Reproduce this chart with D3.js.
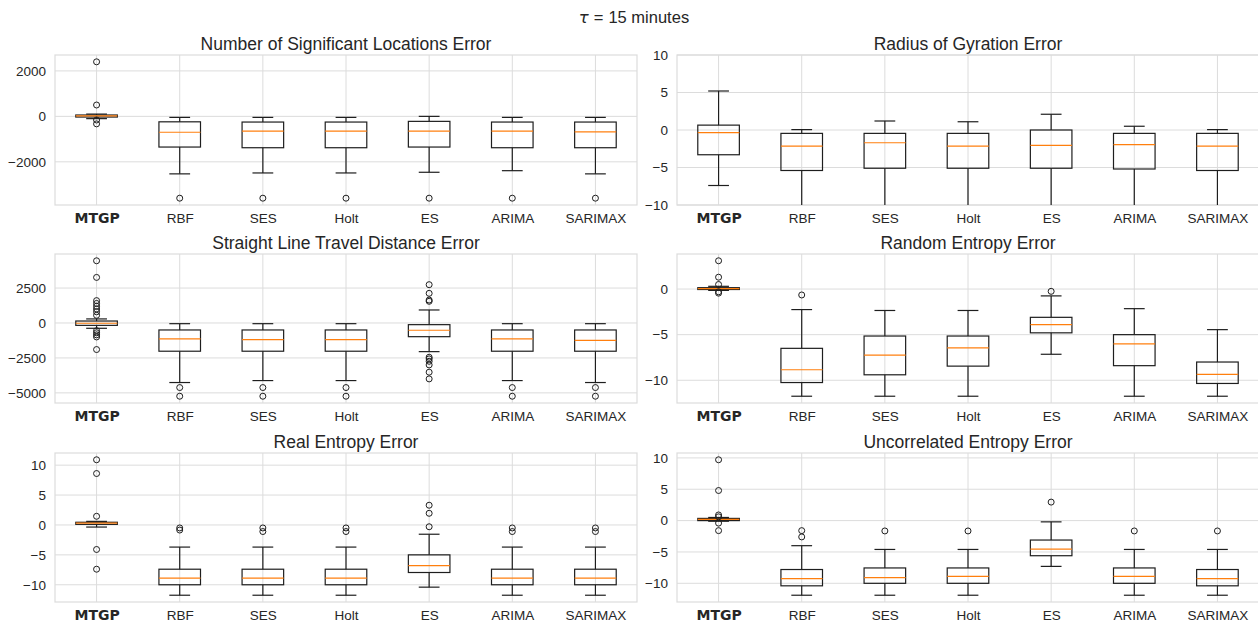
<!DOCTYPE html>
<html>
<head>
<meta charset="utf-8">
<script src="https://cdn.jsdelivr.net/npm/d3@7"></script>
<style>
  body { margin: 0; background: #fff; }
  svg { display: block; }
</style>
</head>
<body>
<svg id="chart" width="1258" height="626"></svg>
<script>
// Forecasting methods compared in every panel
const methods = ["MTGP", "RBF", "SES", "Holt", "ES", "ARIMA", "SARIMAX"];

// Number of Significant Locations Error
const locLo  = [-100, -2530, -2490, -2490, -2460, -2390, -2530];
const locQ1  = [-30, -1350, -1380, -1380, -1350, -1380, -1380];
const locMed = [20, -700, -650, -650, -650, -650, -680];
const locQ3  = [60, -240, -250, -250, -220, -250, -250];
const locHi  = [100, -45, -45, -45, 0, -45, -45];
const locOut = [[2400, 500, -160, -330], [-3600], [-3600], [-3600], [-3600], [-3600], [-3600]];
const locTicks = [-2000, 0, 2000];

// Radius of Gyration Error
const rogLo  = [-7.4, -11, -11, -11, -11, -11, -11];
const rogQ1  = [-3.3, -5.4, -5.1, -5.1, -5.1, -5.2, -5.4];
const rogMed = [-0.35, -2.15, -1.7, -2.15, -2.05, -1.95, -2.15];
const rogQ3  = [0.65, -0.45, -0.45, -0.45, 0.0, -0.45, -0.45];
const rogHi  = [5.2, 0.05, 1.2, 1.1, 2.1, 0.5, 0.05];
const rogOut = [[], [], [], [], [], [], []];
const rogTicks = [-10, -5, 0, 5, 10];
const rogRange = [-10, 10];

// Straight Line Travel Distance Error
const sltLo  = [-380, -4260, -4120, -4120, -2050, -4120, -4260];
const sltQ1  = [-170, -2020, -2020, -2020, -980, -2020, -2020];
const sltMed = [-20, -1140, -1190, -1190, -520, -1140, -1240];
const sltQ3  = [140, -500, -500, -500, -120, -500, -500];
const sltHi  = [290, -50, -50, -50, 930, -50, -50];
const sltOut = [
  [4450, 3260, 1600, 1400, 1200, 1000, 800, 550, -550, -700, -850, -1000, -1900],
  [-4620, -5240], [-4620, -5240], [-4620, -5240],
  [2740, 2120, 1640, 1550, -2450, -2570, -2740, -3000, -3520, -4000],
  [-4620, -5240], [-4620, -5240]
];
const sltTicks = [-5000, -2500, 0, 2500];

// Random Entropy Error
const rndLo  = [-0.15, -11.75, -11.75, -11.75, -7.15, -11.75, -11.75];
const rndQ1  = [-0.05, -10.25, -9.4, -8.45, -4.8, -8.4, -10.35];
const rndMed = [0.05, -8.85, -7.25, -6.45, -3.9, -6.0, -9.35];
const rndQ3  = [0.15, -6.5, -5.15, -5.15, -3.1, -5.0, -8.0];
const rndHi  = [0.3, -2.25, -2.35, -2.35, -0.75, -2.15, -4.45];
const rndOut = [[3.1, 1.3, 0.5, -0.3, -0.45], [-0.65], [], [], [-0.25], [], []];
const rndTicks = [-10, -5, 0];

// Real Entropy Error
const realLo  = [-0.35, -11.75, -11.75, -11.75, -10.4, -11.75, -11.75];
const realQ1  = [0.1, -10.0, -10.0, -10.0, -7.95, -10.0, -10.0];
const realMed = [0.3, -8.9, -8.9, -8.9, -6.8, -8.9, -8.9];
const realQ3  = [0.45, -7.4, -7.4, -7.4, -5.0, -7.4, -7.4];
const realHi  = [0.6, -3.7, -3.7, -3.7, -1.55, -3.7, -3.7];
const realOut = [[10.9, 8.6, 1.45, -4.1, -7.4], [-0.5, -0.85], [-0.5, -1.1], [-0.5, -1.1],
                 [3.3, 1.95, -0.3], [-0.5, -1.1], [-0.5, -1.1]];
const realTicks = [-10, -5, 0, 5, 10];

// Uncorrelated Entropy Error
const uncLo  = [-0.1, -11.9, -11.9, -11.9, -7.3, -11.9, -11.9];
const uncQ1  = [0.0, -10.4, -10.0, -10.0, -5.6, -10.0, -10.4];
const uncMed = [0.2, -9.25, -9.1, -8.9, -4.55, -8.9, -9.25];
const uncQ3  = [0.35, -7.8, -7.55, -7.55, -3.1, -7.55, -7.8];
const uncHi  = [0.5, -4.0, -4.6, -4.6, -0.2, -4.6, -4.6];
const uncOut = [[9.7, 4.8, 0.9, 0.6, -0.4, -1.6], [-1.6, -2.6], [-1.65], [-1.65], [2.95], [-1.65], [-1.65]];
const uncTicks = [-10, -5, 0, 5, 10];

const panels = [
  { title: "Number of Significant Locations Error", lo: locLo, q1: locQ1, med: locMed, q3: locQ3, hi: locHi, out: locOut, ticks: locTicks, col: 0, row: 0 },
  { title: "Radius of Gyration Error", lo: rogLo, q1: rogQ1, med: rogMed, q3: rogQ3, hi: rogHi, out: rogOut, ticks: rogTicks, range: rogRange, col: 1, row: 0 },
  { title: "Straight Line Travel Distance Error", lo: sltLo, q1: sltQ1, med: sltMed, q3: sltQ3, hi: sltHi, out: sltOut, ticks: sltTicks, col: 0, row: 1 },
  { title: "Random Entropy Error", lo: rndLo, q1: rndQ1, med: rndMed, q3: rndQ3, hi: rndHi, out: rndOut, ticks: rndTicks, col: 1, row: 1 },
  { title: "Real Entropy Error", lo: realLo, q1: realQ1, med: realMed, q3: realQ3, hi: realHi, out: realOut, ticks: realTicks, col: 0, row: 2 },
  { title: "Uncorrelated Entropy Error", lo: uncLo, q1: uncQ1, med: uncMed, q3: uncQ3, hi: uncHi, out: uncOut, ticks: uncTicks, col: 1, row: 2 }
];

// Layout of the 3 x 2 grid of axes
const colX = [[55, 637], [677, 1259]];
const rowY = [[55, 205], [254, 403], [453, 602]];

const gridColor = "#dcdcdc";
const boxColor = "#1e1e1e";
const medianColor = "#ff7f0e";
const textColor = "#262626";
const textFont = "'Liberation Sans', Arial, sans-serif";

const svg = d3.select("#chart");

// Figure title: tau = 15 minutes
const sup = svg.append("text")
  .attr("x", 634).attr("y", 23)
  .attr("text-anchor", "middle")
  .style("font-family", textFont)
  .style("font-size", "16.5px")
  .attr("fill", textColor);
sup.append("tspan").style("font-family", "'DejaVu Sans', sans-serif").style("font-style", "italic").text("\u03c4");
sup.append("tspan").attr("dx", 5).text("=");
sup.append("tspan").attr("dx", 5).text("15 minutes");

panels.forEach((p, idx) => {
  const [x0, x1] = colX[p.col];
  const [y0, y1] = rowY[p.row];

  const x = d3.scalePoint().domain(methods).range([x0, x1]).padding(0.5);
  const boxW = x.step() * 0.5;
  const capW = boxW * 0.5;

  let domain = p.range;
  if (!domain) {
    const all = [].concat(p.lo, p.hi, p.q1, p.q3, ...p.out);
    const mn = d3.min(all), mx = d3.max(all);
    const pad = (mx - mn) * 0.05;
    domain = [mn - pad, mx + pad];
  }
  const y = d3.scaleLinear().domain(domain).range([y1, y0]);

  const g = svg.append("g");
  const clipId = "clip" + idx;
  svg.append("clipPath").attr("id", clipId)
    .append("rect").attr("x", x0).attr("y", y0).attr("width", x1 - x0).attr("height", y1 - y0);

  // Grid lines
  g.selectAll(".hgrid").data(p.ticks).join("line")
    .attr("x1", x0).attr("x2", x1)
    .attr("y1", d => y(d)).attr("y2", d => y(d))
    .attr("stroke", gridColor).attr("stroke-width", 1);
  g.selectAll(".vgrid").data(methods).join("line")
    .attr("x1", d => x(d)).attr("x2", d => x(d))
    .attr("y1", y0).attr("y2", y1)
    .attr("stroke", gridColor).attr("stroke-width", 1);

  // Frame
  g.append("rect")
    .attr("x", x0).attr("y", y0).attr("width", x1 - x0).attr("height", y1 - y0)
    .attr("fill", "none").attr("stroke", gridColor).attr("stroke-width", 1.2);

  // Axes
  const yAxis = d3.axisLeft(y).tickValues(p.ticks).tickSize(0).tickPadding(9).tickFormat(d3.format("d"));
  const ya = g.append("g").attr("transform", `translate(${x0},0)`).call(yAxis);
  ya.select(".domain").remove();
  ya.selectAll("text").style("font-family", textFont).style("font-size", "13.5px").attr("fill", textColor);

  const xAxis = d3.axisBottom(x).tickSize(0).tickPadding(8);
  const xa = g.append("g").attr("transform", `translate(0,${y1})`).call(xAxis);
  xa.select(".domain").remove();
  xa.selectAll("text")
    .style("font-family", d => d === "MTGP" ? "'DejaVu Sans', sans-serif" : textFont)
    .style("font-weight", d => d === "MTGP" ? "bold" : "normal")
    .style("font-size", d => d === "MTGP" ? "14px" : "13.5px")
    .attr("fill", textColor);

  // Panel title
  g.append("text")
    .attr("x", (x0 + x1) / 2).attr("y", y0 - 5)
    .attr("text-anchor", "middle")
    .style("font-family", textFont).style("font-size", "17.5px")
    .attr("fill", textColor)
    .text(p.title);

  // Box plots
  const marks = svg.append("g").attr("clip-path", `url(#${clipId})`);
  const rows = methods.map((m, i) => ({ m, lo: p.lo[i], q1: p.q1[i], med: p.med[i], q3: p.q3[i], hi: p.hi[i], out: p.out[i] }));

  const bx = marks.selectAll(".bx").data(rows).join("g");
  // whiskers
  bx.append("line")
    .attr("x1", d => x(d.m)).attr("x2", d => x(d.m))
    .attr("y1", d => y(d.q1)).attr("y2", d => y(d.lo))
    .attr("stroke", boxColor).attr("stroke-width", 1.2);
  bx.append("line")
    .attr("x1", d => x(d.m)).attr("x2", d => x(d.m))
    .attr("y1", d => y(d.q3)).attr("y2", d => y(d.hi))
    .attr("stroke", boxColor).attr("stroke-width", 1.2);
  // caps
  bx.append("line")
    .attr("x1", d => x(d.m) - capW / 2).attr("x2", d => x(d.m) + capW / 2)
    .attr("y1", d => y(d.lo)).attr("y2", d => y(d.lo))
    .attr("stroke", boxColor).attr("stroke-width", 1.2);
  bx.append("line")
    .attr("x1", d => x(d.m) - capW / 2).attr("x2", d => x(d.m) + capW / 2)
    .attr("y1", d => y(d.hi)).attr("y2", d => y(d.hi))
    .attr("stroke", boxColor).attr("stroke-width", 1.2);
  // boxes
  bx.append("rect")
    .attr("x", d => x(d.m) - boxW / 2).attr("width", boxW)
    .attr("y", d => y(d.q3)).attr("height", d => Math.max(0.5, y(d.q1) - y(d.q3)))
    .attr("fill", "none").attr("stroke", boxColor).attr("stroke-width", 1.2);
  // medians
  bx.append("line")
    .attr("x1", d => x(d.m) - boxW / 2).attr("x2", d => x(d.m) + boxW / 2)
    .attr("y1", d => y(d.med)).attr("y2", d => y(d.med))
    .attr("stroke", medianColor).attr("stroke-width", 1.2);
  // fliers
  bx.selectAll("circle").data(d => d.out.map(v => ({ m: d.m, v }))).join("circle")
    .attr("cx", d => x(d.m)).attr("cy", d => y(d.v)).attr("r", 3)
    .attr("fill", "none").attr("stroke", boxColor).attr("stroke-width", 1);
});
</script>
</body>
</html>
